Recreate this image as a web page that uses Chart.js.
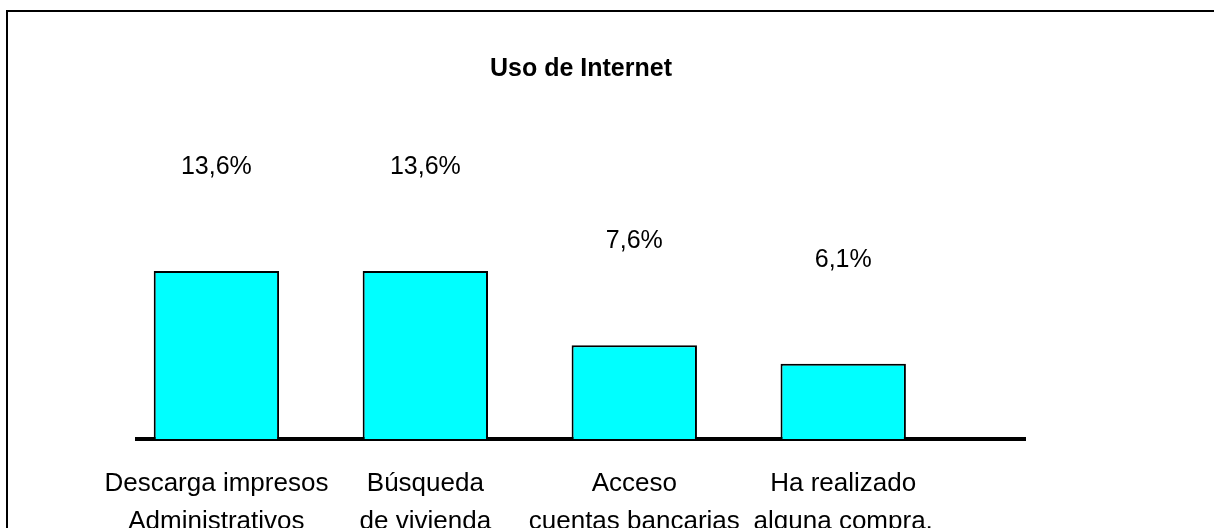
<!DOCTYPE html>
<html>
<head>
<meta charset="utf-8">
<title>Uso de Internet</title>
<script src="https://cdn.jsdelivr.net/npm/chart.js@4.4.1/dist/chart.umd.min.js"></script>
<style>
    html, body { margin: 0; padding: 0; background: #fff; overflow: hidden; }
    #frame { position: absolute; left: 6px; top: 10px; width: 1400px; height: 800px; border: 2px solid #000; }
    #usoChart { position: absolute; left: 0; top: 0; }
</style>
</head>
<body>
<div id="frame"></div>
<canvas id="usoChart" width="1214" height="528"></canvas>
<script>
const chartTitle = 'Uso de Internet';
const categories = [
    ['Descarga impresos', 'Administrativos'],
    ['Búsqueda', 'de vivienda'],
    ['Acceso', 'cuentas bancarias'],
    ['Ha realizado', 'alguna compra,'],
];
const percentages = [13.6, 13.6, 7.6, 6.1];

const FONT = "'Liberation Sans', Arial, sans-serif";

function formatPercent(v) {
    return v.toFixed(1).replace('.', ',') + '%';
}

// value labels floating above the bars
const valueLabels = {
    id: 'valueLabels',
    afterDatasetsDraw(chart) {
        const ctx = chart.ctx;
        const meta = chart.getDatasetMeta(0);
        ctx.save();
        ctx.font = '25px ' + FONT;
        ctx.fillStyle = '#000';
        ctx.textAlign = 'center';
        ctx.textBaseline = 'middle';
        meta.data.forEach((bar, i) => {
            ctx.fillText(formatPercent(percentages[i]), bar.x, bar.y - 104);
        });
        ctx.restore();
    }
};

new Chart(document.getElementById('usoChart'), {
    type: 'bar',
    data: {
        datasets: [{
            label: chartTitle,
            data: percentages.map((v, i) => ({ x: i, y: v })),
            backgroundColor: '#00ffff',
            borderColor: '#000',
            borderWidth: 2,
            barPercentage: 0.6,
            categoryPercentage: 1,
        }],
    },
    options: {
        responsive: false,
        animation: false,
        devicePixelRatio: 1,
        layout: {
            padding: { left: 137, right: 189, top: 0, bottom: 0 }
        },
        scales: {
            x: {
                type: 'linear',
                offset: false,
                min: -0.38,
                max: 3.87,
                grid: { display: false, drawTicks: false },
                border: { display: true, color: '#000', width: 4 },
                afterBuildTicks: (axis) => {
                    axis.ticks = categories.map((c, i) => ({ value: i }));
                },
                afterFit: (axis) => {
                    axis.height = 89;
                },
                ticks: {
                    color: '#000',
                    font: { family: FONT, size: 26, lineHeight: 1.46 },
                    padding: 26,
                    maxRotation: 0,
                    autoSkip: false,
                    callback: (value) => categories[value]
                }
            },
            y: {
                display: false,
                min: 0,
                max: 20
            }
        },
        plugins: {
            legend: { display: false },
            tooltip: { enabled: false },
            title: {
                display: true,
                text: chartTitle,
                color: '#000',
                font: { family: FONT, size: 25, weight: 'bold', lineHeight: 1.2 },
                padding: { top: 54, bottom: 108 }
            }
        }
    },
    plugins: [valueLabels]
});
</script>
</body>
</html>
